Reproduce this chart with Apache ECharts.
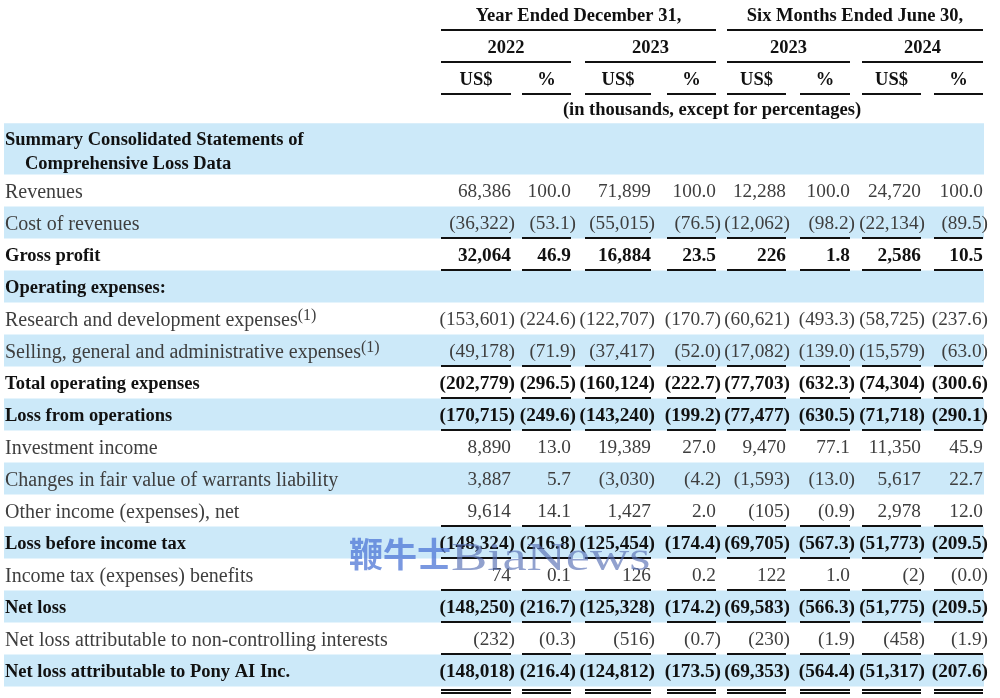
<!DOCTYPE html>
<html><head><meta charset="utf-8">
<script src="https://cdn.jsdelivr.net/npm/echarts@6/dist/echarts.min.js"></script>
<style>html,body{margin:0;padding:0;background:#fff}#c{width:1000px;height:698px}</style>
</head><body><div id="c"></div>
<script>
// ---------- DATA ----------
const periodHeaders = ['Year Ended December 31,', 'Six Months Ended June 30,'];
const yearHeaders = ['2022', '2023', '2023', '2024'];
const unitHeaders = ['US$', '%', 'US$', '%', 'US$', '%', 'US$', '%'];
const unitNote = '(in thousands, except for percentages)';
const sectionTitle = ['Summary Consolidated Statements of', 'Comprehensive Loss Data'];

const rowLabels = [
  'Revenues',
  'Cost of revenues',
  'Gross profit',
  'Operating expenses:',
  'Research and development expenses',
  'Selling, general and administrative expenses',
  'Total operating expenses',
  'Loss from operations',
  'Investment income',
  'Changes in fair value of warrants liability',
  'Other income (expenses), net',
  'Loss before income tax',
  'Income tax (expenses) benefits',
  'Net loss',
  'Net loss attributable to non-controlling interests',
  'Net loss attributable to Pony AI Inc.'
];
const footnotes = ['', '', '', '', '(1)', '(1)', '', '', '', '', '', '', '', '', '', ''];

const usdFY2022 = [68386, -36322, 32064, null, -153601, -49178, -202779, -170715, 8890, 3887, 9614, -148324, 74, -148250, -232, -148018];
const pctFY2022 = [100.0, -53.1, 46.9, null, -224.6, -71.9, -296.5, -249.6, 13.0, 5.7, 14.1, -216.8, 0.1, -216.7, -0.3, -216.4];
const usdFY2023 = [71899, -55015, 16884, null, -122707, -37417, -160124, -143240, 19389, -3030, 1427, -125454, 126, -125328, -516, -124812];
const pctFY2023 = [100.0, -76.5, 23.5, null, -170.7, -52.0, -222.7, -199.2, 27.0, -4.2, 2.0, -174.4, 0.2, -174.2, -0.7, -173.5];
const usdH12023 = [12288, -12062, 226, null, -60621, -17082, -77703, -77477, 9470, -1593, -105, -69705, 122, -69583, -230, -69353];
const pctH12023 = [100.0, -98.2, 1.8, null, -493.3, -139.0, -632.3, -630.5, 77.1, -13.0, -0.9, -567.3, 1.0, -566.3, -1.9, -564.4];
const usdH12024 = [24720, -22134, 2586, null, -58725, -15579, -74304, -71718, 11350, 5617, 2978, -51773, -2, -51775, -458, -51317];
const pctH12024 = [100.0, -89.5, 10.5, null, -237.6, -63.0, -300.6, -290.1, 45.9, 22.7, 12.0, -209.5, -0.0, -209.5, -1.9, -207.6];

// ---------- STYLE / LAYOUT ----------
const columns = [
  {vals: usdFY2022, kind: 'usd'}, {vals: pctFY2022, kind: 'pct'},
  {vals: usdFY2023, kind: 'usd'}, {vals: pctFY2023, kind: 'pct'},
  {vals: usdH12023, kind: 'usd'}, {vals: pctH12023, kind: 'pct'},
  {vals: usdH12024, kind: 'usd'}, {vals: pctH12024, kind: 'pct'}
];
const colLeft  = [441, 522, 585, 667, 727, 800, 862, 934];
const colRight = [511, 571, 651, 716, 786, 850, 921, 983];
const boldRows = [2, 3, 6, 7, 11, 13, 15];
const ruleRows = [1, 2, 5, 6, 7, 10, 11, 12, 13, 14];
const doubleRuleRows = [15];
const BAND = '#cce9f9';
const INK = '#111';
const GREY = '#3e3e3e';
const FAM = '"Liberation Serif", "Times New Roman", serif';
const LABEL_X = 5, BAND_L = 4, BAND_R = 984;
const TEXT_DY = 2;

function isNeg(v) { return v < 0 || Object.is(v, -0); }
function fmt(v, kind) {
  const a = Math.abs(v);
  const s = kind === 'usd' ? a.toLocaleString('en-US') : a.toFixed(1);
  return isNeg(v) ? '(' + s + ')' : s;
}

function renderRow(params, api) {
  const i = api.value(1);
  const p = (x, y) => api.coord([x, y]);
  const kids = [];
  const bold = boldRows.includes(i);
  if (i % 2 === 1) {
    const a = p(BAND_L, i - 0.5), b = p(BAND_R, i + 0.5);
    kids.push({type: 'rect', z2: 0, shape: {x: a[0], y: a[1], width: b[0] - a[0], height: b[1] - a[1]}, style: {fill: BAND}});
  }
  const lp = p(LABEL_X, i);
  const col = bold ? INK : GREY;
  if (footnotes[i]) {
    kids.push({type: 'text', z2: 10, x: lp[0], y: lp[1] + TEXT_DY, style: {
      text: '{m|' + rowLabels[i] + '}{s|' + footnotes[i] + '}',
      verticalAlign: 'middle', align: 'left',
      rich: {
        m: {fontSize: 20, fontFamily: FAM, fill: col, lineHeight: 26},
        s: {fontSize: 16, fontFamily: FAM, fill: col, lineHeight: 16, verticalAlign: 'top'}
      }
    }});
  } else {
    kids.push({type: 'text', z2: 10, x: lp[0], y: lp[1] + TEXT_DY, style: {
      text: rowLabels[i], fill: col, align: 'left', verticalAlign: 'middle',
      font: (bold ? 'bold 18.5px ' : '20px ') + FAM
    }});
  }
  columns.forEach((c, k) => {
    const v = c.vals[i];
    if (v === null || v === undefined) return;
    const shift = isNeg(v) ? (c.kind === 'pct' ? 5 : 4) : 0;
    const pt = p(colRight[k] + shift, i);
    kids.push({type: 'text', z2: 10, x: pt[0], y: pt[1] + TEXT_DY, style: {
      text: fmt(v, c.kind), fill: col, align: 'right', verticalAlign: 'middle',
      font: (bold ? 'bold 19.3px ' : '19.3px ') + FAM
    }});
  });
  const rules = [];
  if (ruleRows.includes(i)) rules.push(i + 0.5);
  if (doubleRuleRows.includes(i)) { rules.push(i + 0.6, i + 0.72); }
  rules.forEach(ry => {
    colLeft.forEach((l, k) => {
      const a = p(l, ry), b = p(colRight[k], ry);
      kids.push({type: 'line', z2: 20, shape: {x1: a[0], y1: Math.round(a[1]), x2: b[0], y2: Math.round(b[1])}, style: {stroke: INK, lineWidth: 2}});
    });
  });
  return {type: 'group', children: kids};
}

function renderHeader(params, api) {
  const p = (x, y) => api.coord([x, y]);
  const kids = [];
  const hFont = 'bold 18.5px ' + FAM;
  const txt = (x, y, t, align) => {
    const q = p(x, y);
    kids.push({type: 'text', z2: 10, x: q[0], y: q[1] + TEXT_DY, style: {text: t, fill: INK, font: hFont, align: align || 'center', verticalAlign: 'middle'}});
  };
  const rule = (l, r, y) => {
    const a = p(l, y), b = p(r, y);
    kids.push({type: 'line', z2: 20, shape: {x1: a[0], y1: Math.round(a[1]), x2: b[0], y2: Math.round(b[1])}, style: {stroke: INK, lineWidth: 2}});
  };
  periodHeaders.forEach((t, g) => {
    const l = colLeft[g * 4], r = colRight[g * 4 + 3];
    txt((l + r) / 2, -5.5, t);
    rule(l, r, -5.0);
  });
  yearHeaders.forEach((t, g) => {
    const l = colLeft[g * 2], r = colRight[g * 2 + 1];
    txt((l + r) / 2, -4.5, t);
    rule(l, r, -4.0);
  });
  unitHeaders.forEach((t, k) => {
    txt((colLeft[k] + colRight[k]) / 2, -3.5, t);
    rule(colLeft[k], colRight[k], -3.02);
  });
  txt((colLeft[0] + colRight[7]) / 2, -2.56, unitNote);
  const a = p(BAND_L, -2.1), b = p(BAND_R, -0.5);
  kids.push({type: 'rect', z2: 0, shape: {x: a[0], y: a[1], width: b[0] - a[0], height: b[1] - a[1]}, style: {fill: BAND}});
  txt(LABEL_X, -1.62, sectionTitle[0], 'left');
  txt(LABEL_X + 20, -0.88, sectionTitle[1], 'left');
  return {type: 'group', children: kids};
}

const chart = echarts.init(document.getElementById('c'), null, {renderer: 'canvas'});
chart.setOption({
  backgroundColor: '#fff',
  animation: false,
  grid: {left: 0, right: 0, top: 0, bottom: 0},
  xAxis: {type: 'value', min: 0, max: 1000, show: false},
  yAxis: {type: 'value', inverse: true, min: -5.95, max: -5.95 + 698 / 32, show: false},
  series: [
    {type: 'custom', clip: false, silent: true, renderItem: renderHeader, data: [[0, 0]], encode: {x: 0, y: 1}},
    {type: 'custom', clip: false, silent: true, renderItem: renderRow, data: rowLabels.map((_, i) => [0, i]), encode: {x: 0, y: 1}}
  ],
  graphic: [
    {type: 'text', x: 349, y: 554, z: 100, silent: true, style: {text: '鞭牛士', font: 'bold 34px "Noto Sans CJK SC"', fill: 'rgba(78,118,214,0.75)', verticalAlign: 'middle'}},
    {type: 'text', x: 451, y: 559, scaleX: 1.36, z: 100, silent: true, style: {text: 'BiaNews', font: '40px "Liberation Serif"', fill: 'rgba(88,112,180,0.66)', verticalAlign: 'middle'}}
  ]
});
</script></body></html>
